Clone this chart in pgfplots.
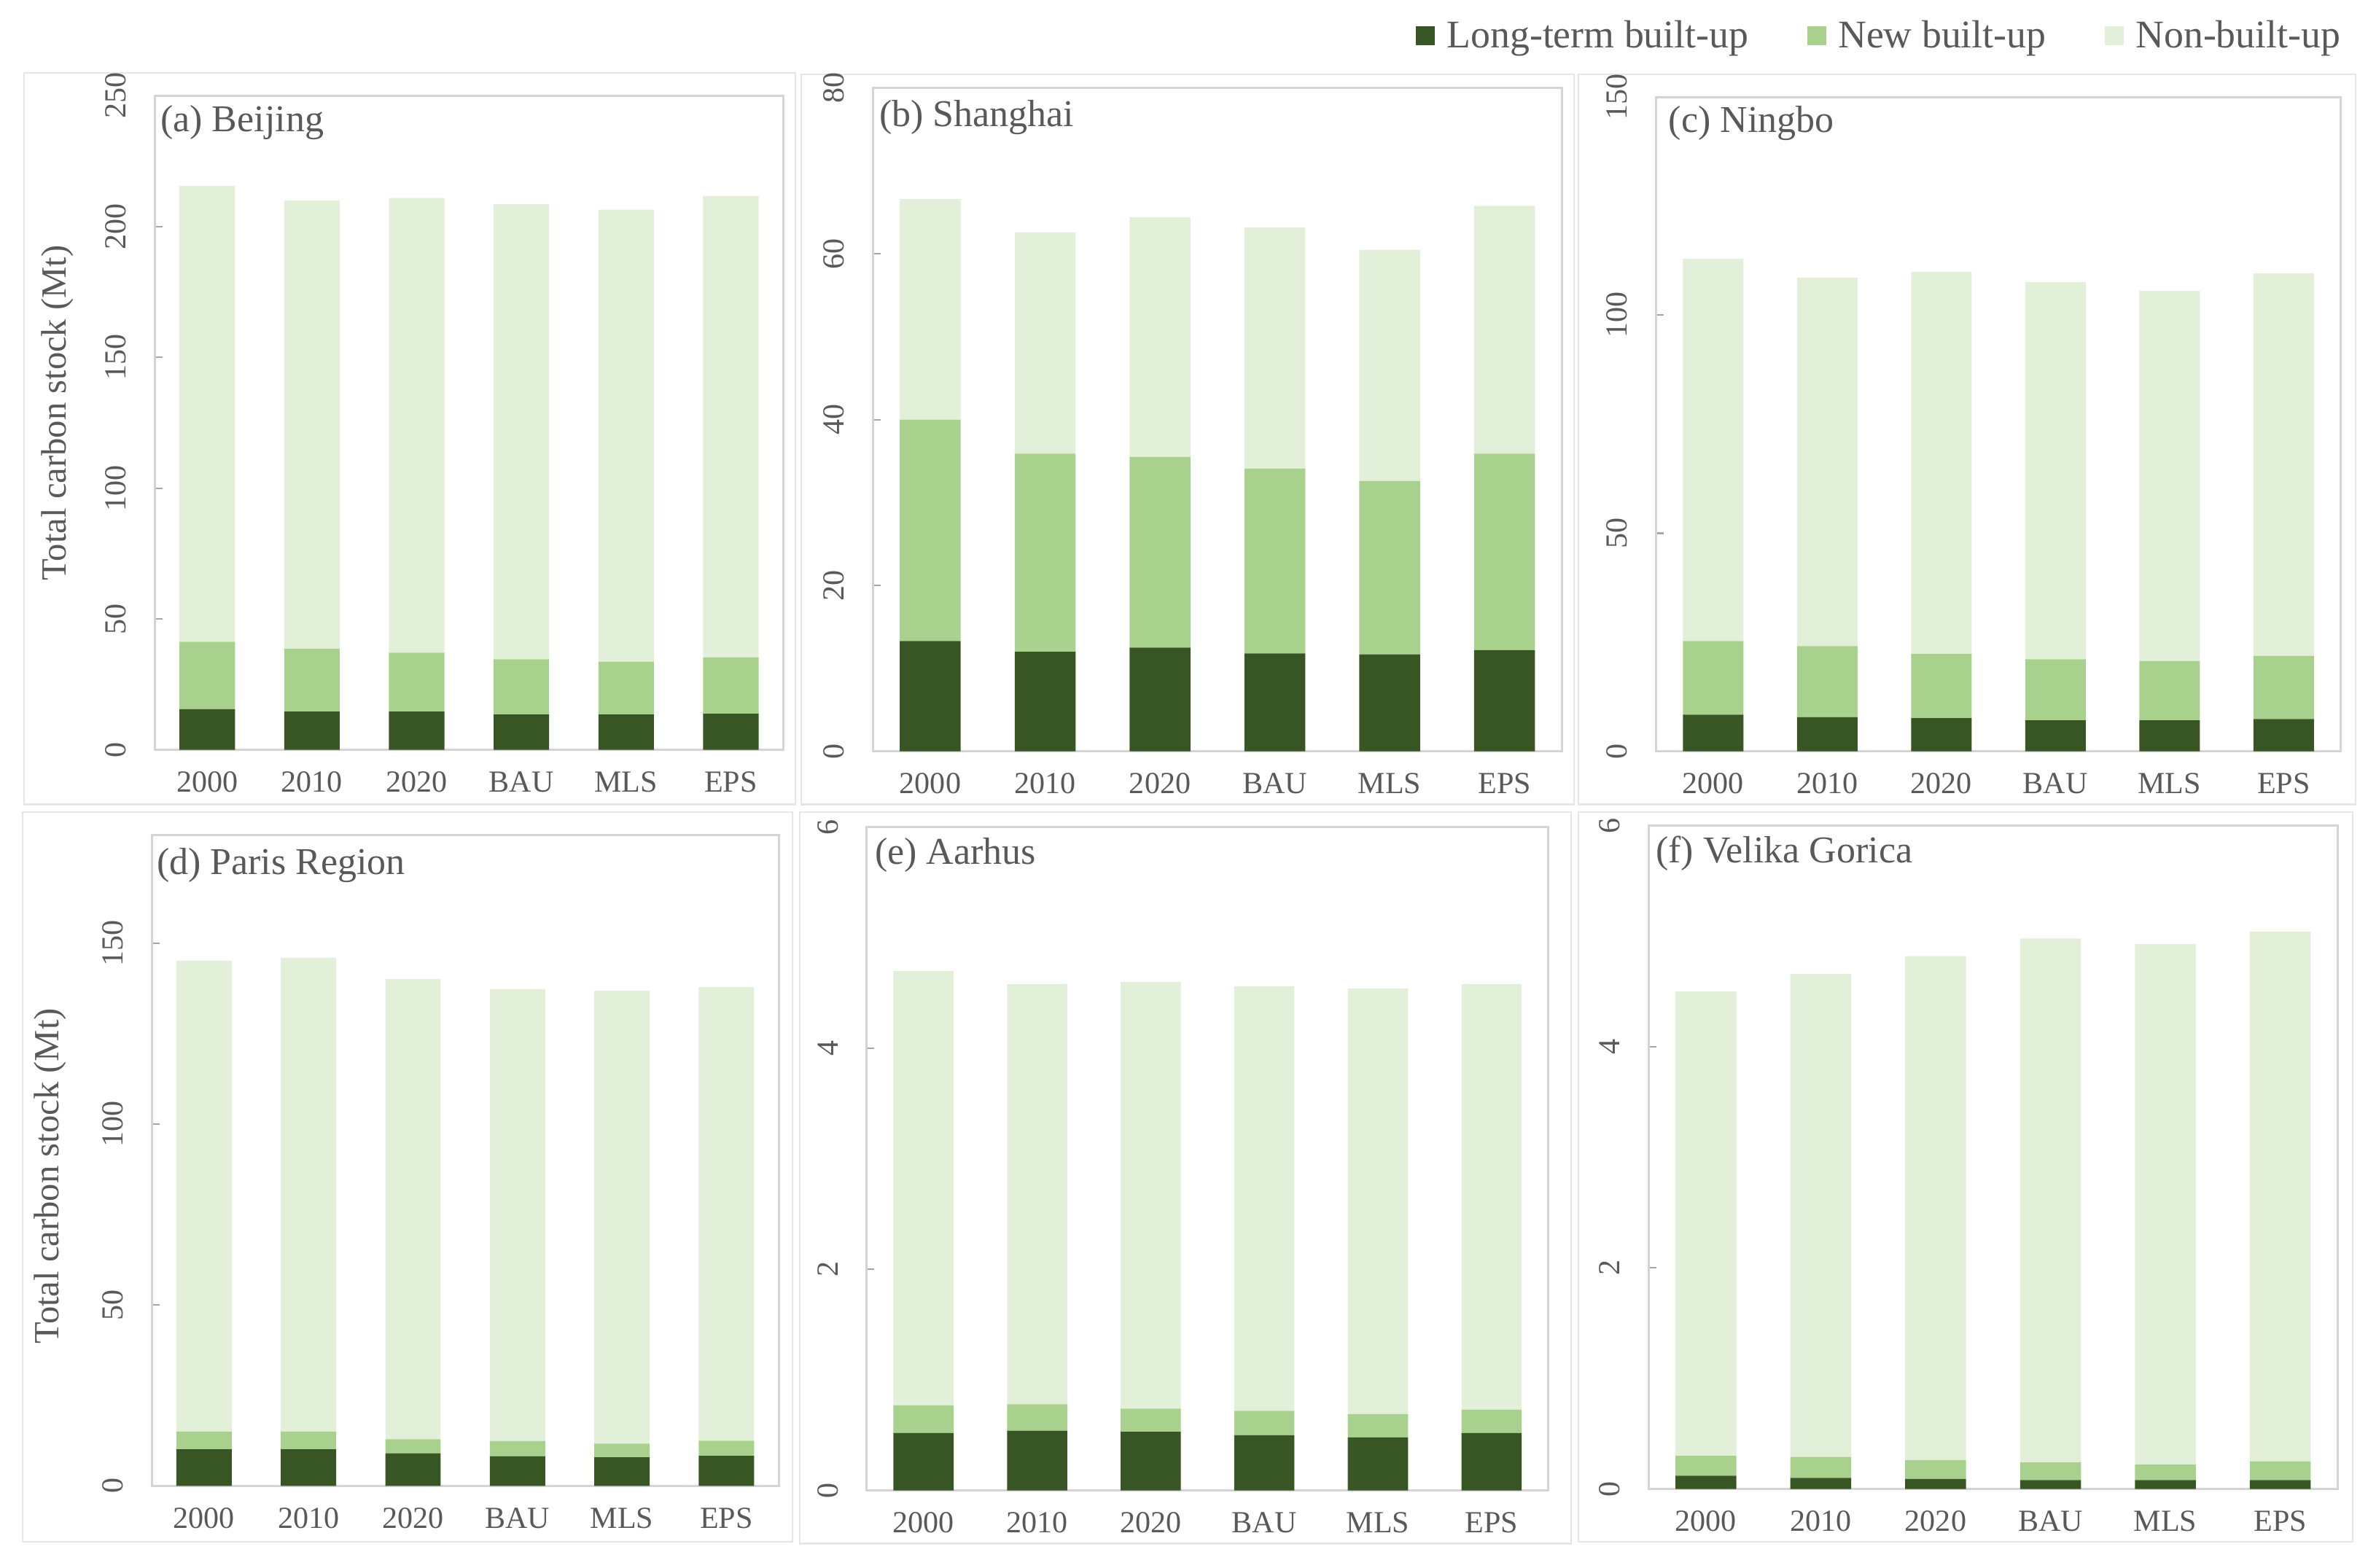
\documentclass[border=0pt]{standalone}
\usepackage{fontspec}
\setmainfont{Liberation Serif}
\usepackage{pgfplots}
\usepackage{pgfplotstable}
\pgfplotsset{compat=1.18}

\definecolor{cLong}{HTML}{375623}
\definecolor{cNew}{HTML}{A9D18E}
\definecolor{cNon}{HTML}{E2F0D9}
\definecolor{txt}{HTML}{595959}
\definecolor{frame}{HTML}{D4D4D4}
\definecolor{outer}{HTML}{E6E6E6}

% carbon stock (Mt): long-term built-up, new built-up, non-built-up
\pgfplotstableread{
x L N U
0 15.5 25.8 174.2
1 14.6 24.0 171.4
2 14.6 22.5 173.8
3 13.5 21.1 173.9
4 13.5 20.2 172.7
5 13.8 21.5 176.3
}\beijing
\pgfplotstableread{
x L N U
0 13.3 26.7 26.6
1 12.0 23.9 26.7
2 12.5 23.0 28.9
3 11.8 22.3 29.1
4 11.7 20.9 27.9
5 12.2 23.7 29.9
}\shanghai
\pgfplotstableread{
x L N U
0 8.4 16.9 87.6
1 7.8 16.3 84.5
2 7.6 14.7 87.7
3 7.1 14.0 86.5
4 7.1 13.6 84.9
5 7.4 14.5 87.7
}\ningbo
\pgfplotstableread{
x L N U
0 10.1 4.9 130.2
1 10.1 4.9 131.0
2 9.0 3.9 127.2
3 8.2 4.2 124.9
4 7.9 3.8 125.2
5 8.3 4.2 125.4
}\paris
\pgfplotstableread{
x L N U
0 0.52 0.25 3.93
1 0.54 0.24 3.80
2 0.53 0.21 3.86
3 0.50 0.22 3.84
4 0.48 0.21 3.85
5 0.52 0.21 3.85
}\aarhus
\pgfplotstableread{
x L N U
0 0.12 0.18 4.20
1 0.10 0.19 4.37
2 0.09 0.17 4.56
3 0.08 0.16 4.74
4 0.08 0.14 4.71
5 0.08 0.17 4.79
}\velika

\pgfplotsset{
  panel/.style={
    scale only axis,
    anchor=south west,
    ybar stacked,
    bar width=0.53,
    xmin=-0.5, xmax=5.5, ymin=0,
    xtick={0,...,5},
    xticklabels={2000,2010,2020,BAU,MLS,EPS},
    xtick style={draw=none},
    ytick pos=left,
    tick align=inside,
    major tick length=0.1cm,
    ytick style={draw=black!35, line width=0.6pt},
    axis line style={draw=frame, line width=0.8pt},
    tick label style={font=\fontsize{11.5}{13}\selectfont, text=txt},
    /pgf/number format/assume math mode=true,
    yticklabel style={rotate=90, anchor=south, inner sep=0pt},
    yticklabel shift=0.37cm,
    xticklabel style={anchor=north, inner sep=0pt},
    xticklabel shift=0.28cm,
    every axis title/.style={at={(axis description cs:0,1)}, anchor=west,
      inner sep=0pt, font=\fontsize{14.2}{16}\selectfont, text=txt},
    ylabel style={anchor=center, font=\fontsize{13.3}{15}\selectfont, text=txt},
    every axis plot/.append style={draw=none},
  },
}

\begin{document}
\begin{tikzpicture}
\path[use as bounding box] (0,0) rectangle (31.2,-20.66);

% chart-area borders
\draw[outer, line width=0.6pt] (0.32,-0.96) rectangle (10.48,-10.60);
\draw[outer, line width=0.6pt] (10.56,-0.98) rectangle (20.74,-10.60);
\draw[outer, line width=0.6pt] (20.80,-0.98) rectangle (31.04,-10.60);
\draw[outer, line width=0.6pt] (0.30,-10.70) rectangle (10.44,-20.32);
\draw[outer, line width=0.6pt] (10.54,-10.70) rectangle (20.70,-20.34);
\draw[outer, line width=0.6pt] (20.80,-10.70) rectangle (31.00,-20.32);

% (a)
\begin{axis}[panel, at={(2.04cm,-9.88cm)}, width=8.28cm, height=8.62cm,
  ymax=250, ytick={0,50,...,250},
  title={(a) Beijing}, title style={xshift=0.07cm, yshift=-0.35cm},
  ylabel={Total carbon stock (Mt)},
  ylabel style={at={(axis description cs:-0.155,0.515)}}]
\addplot[fill=cLong] table[x=x, y=L] {\beijing};
\addplot[fill=cNew] table[x=x, y=N] {\beijing};
\addplot[fill=cNon] table[x=x, y=U] {\beijing};
\end{axis}

% (b)
\begin{axis}[panel, at={(11.50cm,-9.90cm)}, width=9.08cm, height=8.74cm,
  ymax=80, ytick={0,20,...,80},
  title={(b) Shanghai}, title style={xshift=0.08cm, yshift=-0.39cm}]
\addplot[fill=cLong] table[x=x, y=L] {\shanghai};
\addplot[fill=cNew] table[x=x, y=N] {\shanghai};
\addplot[fill=cNon] table[x=x, y=U] {\shanghai};
\end{axis}

% (c) with the legend
\begin{axis}[panel, at={(21.82cm,-9.90cm)}, width=9.02cm, height=8.62cm,
  ymax=150, ytick={0,50,...,150},
  title={(c) Ningbo}, title style={xshift=0.16cm, yshift=-0.34cm},
  legend columns=3, legend cell align=left,
  legend style={at={(axis description cs:1.02,1.093)}, anchor=east,
    draw=none, fill=none, font=\fontsize{14.7}{17}\selectfont, text=txt,
    /tikz/every even column/.append style={column sep=0.70cm}}]
\addplot[fill=cLong, legend image code/.code={\fill[cLong] (0cm,-0.12cm) rectangle (0.25cm,0.13cm); \path (0.34cm,0cm);}]
  table[x=x, y=L] {\ningbo};
\addplot[fill=cNew, legend image code/.code={\fill[cNew] (0cm,-0.12cm) rectangle (0.25cm,0.13cm); \path (0.34cm,0cm);}]
  table[x=x, y=N] {\ningbo};
\addplot[fill=cNon, legend image code/.code={\fill[cNon] (0cm,-0.12cm) rectangle (0.25cm,0.13cm); \path (0.34cm,0cm);}]
  table[x=x, y=U] {\ningbo};
\legend{Long-term built-up, New built-up, Non-built-up}
\end{axis}

% (d)
\begin{axis}[panel, at={(2.00cm,-19.58cm)}, width=8.26cm, height=8.58cm,
  ymax=180, ytick={0,50,100,150},
  title={(d) Paris Region}, title style={xshift=0.06cm, yshift=-0.40cm},
  ylabel={Total carbon stock (Mt)},
  ylabel style={at={(axis description cs:-0.162,0.476)}}]
\addplot[fill=cLong] table[x=x, y=L] {\paris};
\addplot[fill=cNew] table[x=x, y=N] {\paris};
\addplot[fill=cNon] table[x=x, y=U] {\paris};
\end{axis}

% (e)
\begin{axis}[panel, at={(11.42cm,-19.64cm)}, width=8.98cm, height=8.74cm,
  ymax=6, ytick={0,2,4,6},
  title={(e) Aarhus}, title style={xshift=0.10cm, yshift=-0.37cm}]
\addplot[fill=cLong] table[x=x, y=L] {\aarhus};
\addplot[fill=cNew] table[x=x, y=N] {\aarhus};
\addplot[fill=cNon] table[x=x, y=U] {\aarhus};
\end{axis}

% (f)
\begin{axis}[panel, at={(21.72cm,-19.62cm)}, width=9.08cm, height=8.74cm,
  ymax=6, ytick={0,2,4,6},
  title={(f) Velika Gorica}, title style={xshift=0.09cm, yshift=-0.37cm}]
\addplot[fill=cLong] table[x=x, y=L] {\velika};
\addplot[fill=cNew] table[x=x, y=N] {\velika};
\addplot[fill=cNon] table[x=x, y=U] {\velika};
\end{axis}
\end{tikzpicture}
\end{document}
